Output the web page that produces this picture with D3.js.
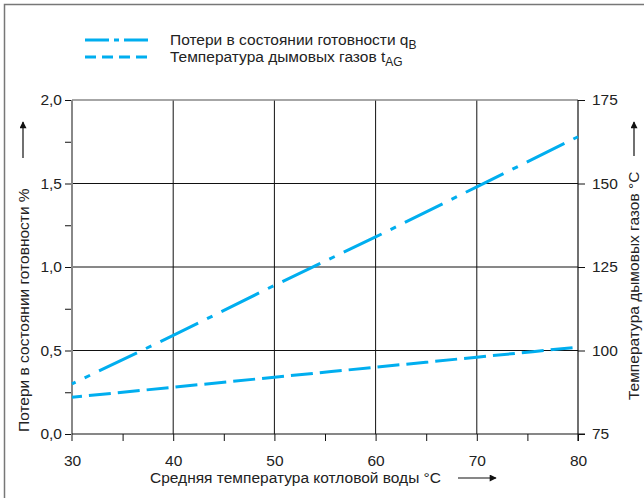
<!DOCTYPE html>
<html>
<head>
<meta charset="utf-8">
<script src="https://cdn.jsdelivr.net/npm/d3@7"></script>
<style>
  body { margin: 0; background: #fff; }
  svg { display: block; font-family: "Liberation Sans", Arial, sans-serif; }
</style>
</head>
<body>
<svg id="chart" width="644" height="498"></svg>
<script>
// data
var temps = [30, 40, 50, 60, 70, 80];
var lossValues = [0.30, 0.59, 0.89, 1.18, 1.48, 1.78];   // q_B, %
var fluegasValues = [86, 89, 92, 95, 98, 101];           // t_AG, °C
var xTicks = [30, 40, 50, 60, 70, 80];
var yTicks = [0, 0.5, 1.0, 1.5, 2.0];
var y2Ticks = [75, 100, 125, 150, 175];

var blue = "#00aeef";
var fs = 15.5;
var svg = d3.select("#chart");
var pLeft = 72, pRight = 578, pTop = 100, pBottom = 434;

var x = d3.scaleLinear().domain([30, 80]).range([pLeft, pRight]);
var y = d3.scaleLinear().domain([0, 2]).range([pBottom, pTop]);
var y2 = d3.scaleLinear().domain([75, 175]).range([pBottom, pTop]);

// outer frame (left + top)
svg.append("path").attr("d", "M4.5,498 V4.5 H644")
   .attr("fill", "none").attr("stroke", "#777").attr("stroke-width", 1.5);

// grid
var g = svg.append("g");
g.selectAll(".vg").data([40, 50, 60, 70]).enter().append("line")
  .attr("x1", d => x(d)).attr("x2", d => x(d)).attr("y1", pTop).attr("y2", pBottom)
  .attr("stroke", "#111").attr("stroke-width", 1);
g.selectAll(".hg").data([0.5, 1.0, 1.5]).enter().append("line")
  .attr("x1", pLeft).attr("x2", pRight).attr("y1", d => y(d)).attr("y2", d => y(d))
  .attr("stroke", "#111").attr("stroke-width", 1);

// axes
var xAxis = d3.axisBottom(x).tickValues(d3.range(30, 81, 5)).tickSize(7)
  .tickFormat(d => xTicks.indexOf(d) >= 0 ? d : "");
var xa = svg.append("g").attr("transform", "translate(0," + pBottom + ")").call(xAxis);

var yAxis = d3.axisLeft(y).tickValues(d3.range(0, 2.01, 0.25)).tickSize(7)
  .tickFormat(d => yTicks.some(t => Math.abs(t - d) < 1e-6) ? d3.format(".1f")(d).replace(".", ",") : "");
var ya = svg.append("g").attr("transform", "translate(" + pLeft + ",0)").call(yAxis);

var y2Axis = d3.axisRight(y2).tickValues(y2Ticks).tickSize(7);
var y2a = svg.append("g").attr("transform", "translate(" + pRight + ",0)").call(y2Axis);

[xa, ya, y2a].forEach(function(a){
  a.select(".domain").remove();
  a.selectAll("line").attr("stroke", "#111");
  a.selectAll("text").attr("font-size", fs).attr("fill", "#222")
   .attr("font-family", "Liberation Sans, Arial, sans-serif");
});
xa.selectAll("text").attr("dy", "1.4em");
ya.selectAll("text").attr("x", -10);
y2a.selectAll("text").attr("x", 14);

// axis lines
svg.append("line").attr("x1", pLeft).attr("x2", pLeft).attr("y1", pTop).attr("y2", pBottom + 7)
   .attr("stroke", "#888").attr("stroke-width", 2);
svg.append("line").attr("x1", pLeft).attr("x2", pRight).attr("y1", pTop).attr("y2", pTop)
   .attr("stroke", "#888").attr("stroke-width", 1.5);
svg.append("line").attr("x1", pRight).attr("x2", pRight).attr("y1", pTop).attr("y2", pBottom + 7)
   .attr("stroke", "#111").attr("stroke-width", 1.2);
svg.append("line").attr("x1", pLeft).attr("x2", pRight + 7).attr("y1", pBottom).attr("y2", pBottom)
   .attr("stroke", "#111").attr("stroke-width", 1.2);

// series
var lossLine = d3.line().x((d, i) => x(temps[i])).y(d => y(d));
var gasLine = d3.line().x((d, i) => x(temps[i])).y(d => y2(d)).curve(d3.curveMonotoneX);

svg.append("path").datum(lossValues).attr("d", lossLine)
   .attr("fill", "none").attr("stroke", blue).attr("stroke-width", 3)
   .attr("stroke-dasharray", "42,10,6,10").attr("stroke-dashoffset", 38);
svg.append("path").datum(fluegasValues).attr("d", gasLine)
   .attr("fill", "none").attr("stroke", blue).attr("stroke-width", 3)
   .attr("stroke-dasharray", "22,7").attr("stroke-dashoffset", 12);

// legend
var legend = svg.append("g");
legend.append("line").attr("x1", 85).attr("x2", 148).attr("y1", 40).attr("y2", 40)
  .attr("stroke", blue).attr("stroke-width", 3).attr("stroke-dasharray", "24,5,5,5");
legend.append("line").attr("x1", 85).attr("x2", 148).attr("y1", 57).attr("y2", 57)
  .attr("stroke", blue).attr("stroke-width", 3).attr("stroke-dasharray", "11,6");
var t1 = legend.append("text").attr("x", 170).attr("y", 45).attr("font-size", fs).attr("fill", "#222");
t1.append("tspan").text("Потери в состоянии готовности q");
t1.append("tspan").attr("dy", 4).attr("font-size", 12).text("B");
var t2 = legend.append("text").attr("x", 170).attr("y", 62).attr("font-size", fs).attr("fill", "#222");
t2.append("tspan").text("Температура дымовых газов t");
t2.append("tspan").attr("dy", 4).attr("font-size", 12).text("AG");

// axis titles with arrows
svg.append("defs").append("marker").attr("id", "arr").attr("viewBox", "0 0 10 10")
  .attr("refX", 9).attr("refY", 5).attr("markerWidth", 10).attr("markerHeight", 7)
  .attr("markerUnits", "userSpaceOnUse").attr("orient", "auto")
  .append("path").attr("d", "M0,0 L10,5 L0,10 Z").attr("fill", "#111");

svg.append("text").attr("x", 150).attr("y", 483).attr("font-size", fs).attr("fill", "#222")
  .text("Средняя температура котловой воды °C");
svg.append("line").attr("x1", 458).attr("x2", 496).attr("y1", 478).attr("y2", 478)
  .attr("stroke", "#111").attr("stroke-width", 1.2).attr("marker-end", "url(#arr)");

svg.append("text").attr("transform", "translate(29,432) rotate(-90)")
  .attr("font-size", fs).attr("fill", "#222").text("Потери в состоянии готовности %");
svg.append("line").attr("x1", 23).attr("x2", 23).attr("y1", 158).attr("y2", 122)
  .attr("stroke", "#111").attr("stroke-width", 1.2).attr("marker-end", "url(#arr)");

svg.append("text").attr("transform", "translate(639,400) rotate(-90)")
  .attr("font-size", fs).attr("fill", "#222").text("Температура дымовых газов °C");
svg.append("line").attr("x1", 634).attr("x2", 634).attr("y1", 156).attr("y2", 122)
  .attr("stroke", "#111").attr("stroke-width", 1.2).attr("marker-end", "url(#arr)");
</script>
</body>
</html>
